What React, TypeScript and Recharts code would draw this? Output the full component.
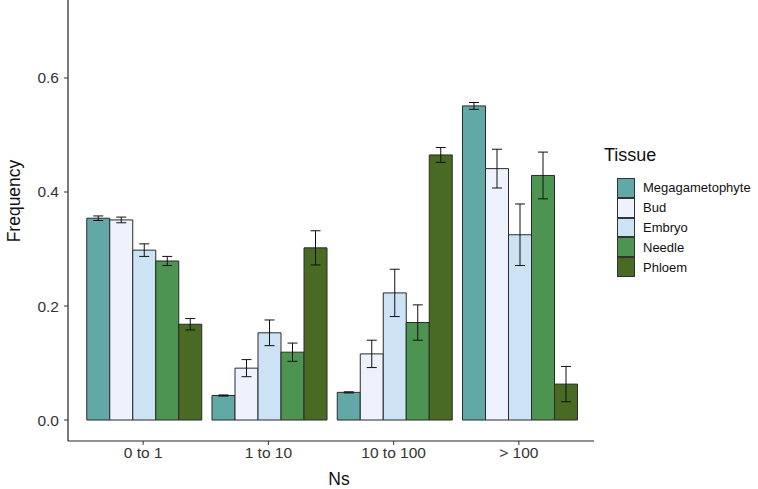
import React from 'react';
import { BarChart, Bar, XAxis, YAxis, Legend, ErrorBar } from 'recharts';

const categories = ['0 to 1', '1 to 10', '10 to 100', '> 100'];

const megagametophyte = [0.354, 0.043, 0.0485, 0.551];
const bud = [0.351, 0.091, 0.116, 0.441];
const embryo = [0.298, 0.153, 0.223, 0.325];
const needle = [0.279, 0.119, 0.171, 0.429];
const phloem = [0.168, 0.302, 0.465, 0.063];

const megagametophyteErr = [0.004, 0.001, 0.001, 0.006];
const budErr = [0.005, 0.015, 0.024, 0.034];
const embryoErr = [0.011, 0.0225, 0.0415, 0.054];
const needleErr = [0.008, 0.016, 0.031, 0.041];
const phloemErr = [0.01, 0.03, 0.013, 0.031];

const yTicks = [0, 0.2, 0.4, 0.6];

const series = [
  { key: 'Megagametophyte', values: megagametophyte, errors: megagametophyteErr, color: '#62A8A6' },
  { key: 'Bud', values: bud, errors: budErr, color: '#EEF2FD' },
  { key: 'Embryo', values: embryo, errors: embryoErr, color: '#CCE2F5' },
  { key: 'Needle', values: needle, errors: needleErr, color: '#4D9453' },
  { key: 'Phloem', values: phloem, errors: phloemErr, color: '#486A22' },
];

const data = categories.map((ns, i) => {
  const row: Record<string, any> = { ns };
  series.forEach(s => {
    row[s.key] = s.values[i];
    row[s.key + 'Err'] = s.errors[i];
  });
  return row;
});

const font = '"Liberation Sans", Arial, sans-serif';
const tickStyle = { fontSize: 15.5, fill: '#333', fontFamily: font };

const renderLegend = () => (
  <div style={{ fontFamily: font, color: '#111' }}>
    <div style={{ fontSize: 18, marginBottom: 12, marginLeft: -13 }}>Tissue</div>
    {series.map(s => (
      <div key={s.key} style={{ display: 'flex', alignItems: 'center', height: 19.8 }}>
        <div style={{ width: 18, height: 19.8, boxSizing: 'border-box', background: s.color, border: '1px solid #333' }} />
        <span style={{ fontSize: 13, marginLeft: 8 }}>{s.key}</span>
      </div>
    ))}
  </div>
);

export default function App() {
  return (
    <div style={{ position: 'absolute', left: 0, top: 0, width: 758, height: 489, background: '#fff' }}>
      <BarChart
        width={758}
        height={489}
        data={data}
        margin={{ top: 0, right: 164, left: 0, bottom: 0 }}
        barCategoryGap="5%"
        barGap={0}
      >
        <XAxis
          dataKey="ns"
          height={48}
          padding={{ left: 12.5, right: 12.5 }}
          tick={tickStyle}
          tickSize={4}
          tickMargin={2}
          axisLine={{ stroke: '#222', strokeWidth: 1.2 }}
          tickLine={{ stroke: '#333' }}
          label={{
            content: () => (
              <text x={339} y={485} textAnchor="middle" fontSize={17.5} fontFamily={font} fill="#111">Ns</text>
            ),
          }}
        />
        <YAxis
          type="number"
          width={68}
          domain={[-0.0368, 0.7368]}
          allowDataOverflow
          ticks={yTicks}
          tickFormatter={(v: number) => v.toFixed(1)}
          tick={tickStyle}
          tickSize={4}
          tickMargin={5}
          axisLine={{ stroke: '#222', strokeWidth: 1.2 }}
          tickLine={{ stroke: '#333' }}
          label={{
            content: () => (
              <text x={20} y={201} transform="rotate(-90 20 201)" textAnchor="middle" fontSize={17.5} fontFamily={font} fill="#111">Frequency</text>
            ),
          }}
        />
        <Legend
          layout="vertical"
          align="center"
          verticalAlign="middle"
          content={renderLegend}
          wrapperStyle={{ position: 'absolute', left: 617, top: 145, width: 140 }}
        />
        {series.map(s => (
          <Bar key={s.key} dataKey={s.key} fill={s.color} stroke="#2a2a2a" strokeWidth={1} isAnimationActive={false}>
            <ErrorBar dataKey={s.key + 'Err'} width={5} stroke="#111" strokeWidth={1} direction="y" />
          </Bar>
        ))}
      </BarChart>
    </div>
  );
}
